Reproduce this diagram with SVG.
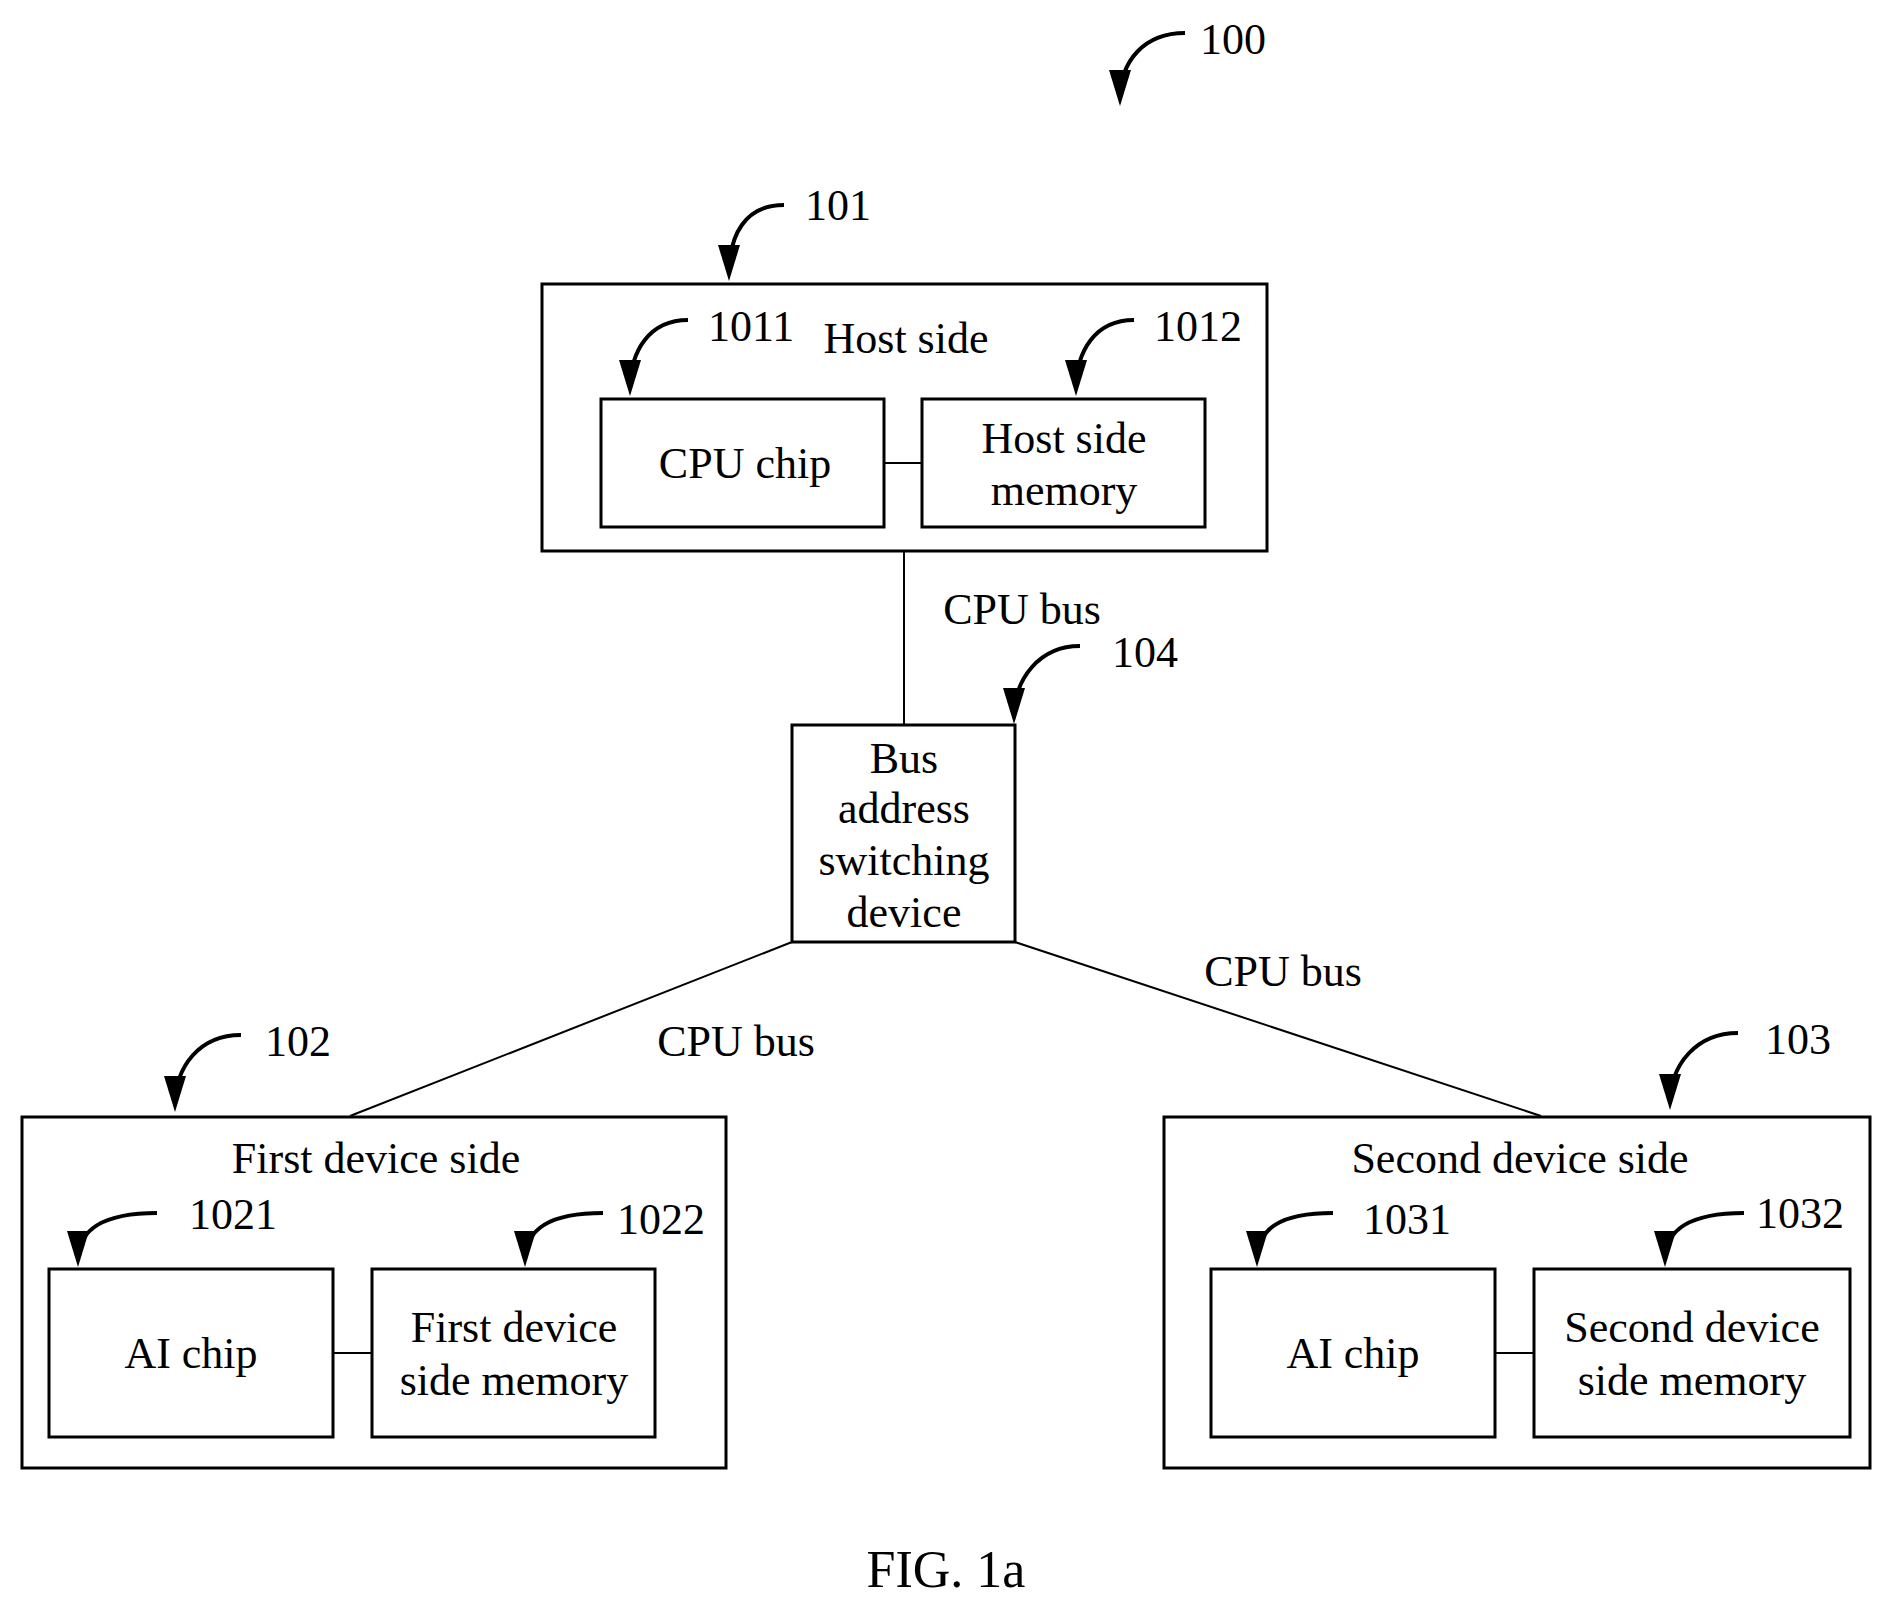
<svg xmlns="http://www.w3.org/2000/svg" width="1892" height="1609" viewBox="0 0 1892 1609">
<style>
.b{fill:none;stroke:#000;stroke-width:3}
.l{fill:none;stroke:#000;stroke-width:2}
.a{fill:none;stroke:#000;stroke-width:4;marker-end:url(#h)}
text{font-family:"Liberation Serif",serif;font-size:44px;fill:#000;text-anchor:middle;dominant-baseline:central}
.n{text-anchor:start}
</style>
<defs><marker id="h" viewBox="0 0 36 22" refX="30" refY="11" markerWidth="36" markerHeight="22" markerUnits="userSpaceOnUse" orient="90"><path d="M0,0 L36,11 L0,22 z" fill="#000"/></marker></defs>
<rect width="1892" height="1609" fill="#fff"/>
<g id="callouts">
<path class="a" d="M1185,33 C1145,33 1120,60 1120,100"/>
<path class="a" d="M784,205 C745,205 729,235 729,275"/>
<path class="a" d="M688,320 C650,320 630,350 630,390"/>
<path class="a" d="M1134,320 C1096,320 1076,350 1076,390"/>
<path class="a" d="M1080,646 C1040,646 1014,678 1014,718"/>
<path class="a" d="M241,1035 C200,1035 175,1066 175,1106"/>
<path class="a" d="M157,1213 C105,1213 78,1228 78,1261"/>
<path class="a" d="M603,1213 C551,1213 525,1228 525,1261"/>
<path class="a" d="M1738,1033 C1697,1033 1670,1064 1670,1104"/>
<path class="a" d="M1333,1213 C1281,1213 1257,1228 1257,1261"/>
<path class="a" d="M1744,1213 C1692,1213 1665,1228 1665,1261"/>
<text class="n" x="1200" y="39">100</text>
<text class="n" x="805" y="205">101</text>
<text class="n" x="708" y="326">1011</text>
<text class="n" x="1154" y="326">1012</text>
<text class="n" x="1112" y="652">104</text>
<text class="n" x="265" y="1041">102</text>
<text class="n" x="189" y="1214">1021</text>
<text class="n" x="617" y="1219">1022</text>
<text class="n" x="1765" y="1039">103</text>
<text class="n" x="1363" y="1219">1031</text>
<text class="n" x="1756" y="1213">1032</text>
</g>
<g id="connectors">
<line class="l" x1="904" y1="551" x2="904" y2="725"/>
<line class="l" x1="884" y1="463" x2="922" y2="463"/>
<line class="l" x1="792" y1="942" x2="350" y2="1116"/>
<line class="l" x1="1015" y1="942" x2="1541" y2="1116"/>
<line class="l" x1="333" y1="1353" x2="372" y2="1353"/>
<line class="l" x1="1495" y1="1353" x2="1534" y2="1353"/>
<text x="1022" y="609">CPU bus</text>
<text x="736" y="1041">CPU bus</text>
<text x="1283" y="971">CPU bus</text>
</g>
<g id="host"><rect class="b" x="542" y="284" width="725" height="267"/><text x="906" y="338">Host side</text></g>
<g id="cpu"><rect class="b" x="601" y="399" width="283" height="128"/><text x="745" y="463">CPU chip</text></g>
<g id="hostmem"><rect class="b" x="922" y="399" width="283" height="128"/><text x="1064" y="438">Host side</text><text x="1064" y="490">memory</text></g>
<g id="bus"><rect class="b" x="792" y="725" width="223" height="217"/><text x="904" y="758">Bus</text><text x="904" y="808">address</text><text x="904" y="860">switching</text><text x="904" y="912">device</text></g>
<g id="dev1"><rect class="b" x="22" y="1117" width="704" height="351"/><text x="376" y="1158">First device side</text></g>
<g id="ai1"><rect class="b" x="49" y="1269" width="284" height="168"/><text x="191" y="1353">AI chip</text></g>
<g id="mem1"><rect class="b" x="372" y="1269" width="283" height="168"/><text x="514" y="1327">First device</text><text x="514" y="1380">side memory</text></g>
<g id="dev2"><rect class="b" x="1164" y="1117" width="706" height="351"/><text x="1520" y="1158">Second device side</text></g>
<g id="ai2"><rect class="b" x="1211" y="1269" width="284" height="168"/><text x="1353" y="1353">AI chip</text></g>
<g id="mem2"><rect class="b" x="1534" y="1269" width="316" height="168"/><text x="1692" y="1327">Second device</text><text x="1692" y="1380">side memory</text></g>
<text x="946" y="1569" style="font-size:52px">FIG. 1a</text>
</svg>
